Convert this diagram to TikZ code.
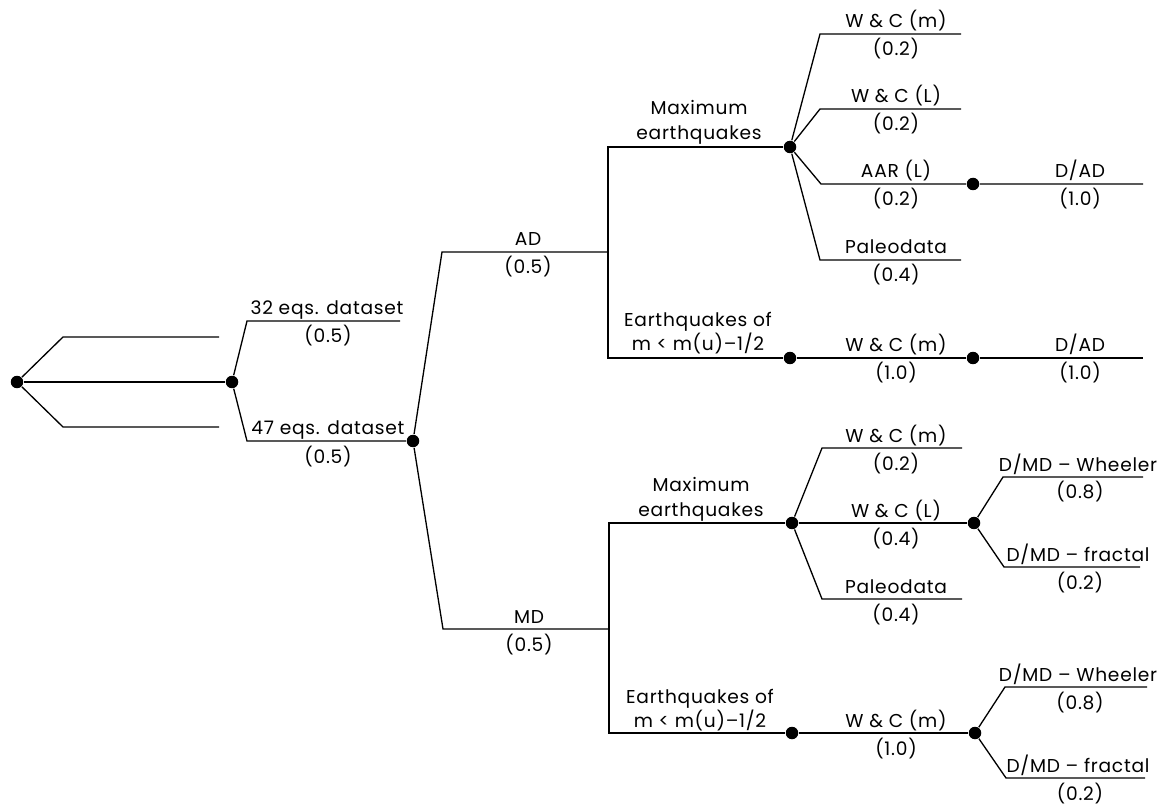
\documentclass[tikz,border=0pt]{standalone}
\usepackage{fontspec}
\setmainfont{Poppins}[LetterSpace=4]
\begin{document}
\begin{tikzpicture}[x=0.02cm,y=-0.02cm,line width=0.75pt,
  dot/.style={circle,fill=black,inner sep=0pt,minimum size=0.25cm},
  lbl/.style={anchor=base,inner sep=0pt,font=\fontsize{10.6}{12}\selectfont}]
\useasboundingbox (0,0) rectangle (1163,807);

% root and the first chance node
\node[dot] (r) at (17,382) {};
\coordinate (r1) at (63,337);  \coordinate (r1e) at (219,337);
\coordinate (r3) at (63,427);  \coordinate (r3e) at (219,427);
\node[dot] (d1) at (232,382) {};
\draw (r) -- (r1) -- (r1e);
\draw (r) -- (d1);
\draw (r) -- (r3) -- (r3e);

% datasets
\coordinate (s1) at (247,321); \coordinate (s1e) at (400,321);
\coordinate (s2) at (247,441);
\node[dot] (d2) at (413,441) {};
\draw (d1) -- (s1) -- (s1e);
\draw (d1) -- (s2) -- (d2);
\node[lbl] (t32) at (327,315) {32 eqs. dataset};
\node[lbl] (p32) at (328,343) {(0.5)};
\node[lbl] (t47) at (328,435) {47 eqs. dataset};
\node[lbl] (p47) at (328,463) {(0.5)};

% AD / MD
\coordinate (a0) at (442,252); \coordinate (ad) at (608,252);
\coordinate (m0) at (443,629); \coordinate (md) at (609,629);
\draw (d2) -- (a0) -- (ad);
\draw (d2) -- (m0) -- (md);
\node[lbl] (tad) at (528,246) {AD};
\node[lbl] (pad) at (528,274) {(0.5)};
\node[lbl] (tmd) at (529,623) {MD};
\node[lbl] (pmd) at (529,651) {(0.5)};

% ---------------- AD branch ----------------
\coordinate (adt) at (608,147); \coordinate (adb) at (608,358);
\node[dot] (m1) at (790,147) {};
\node[dot] (e1) at (790,358) {};
\draw (m1) -- (adt) -- (adb) -- (e1);
\node[lbl] (tm1a) at (699,115) {Maximum};
\node[lbl] (tm1b) at (699,140) {earthquakes};
\node[lbl] (te1a) at (698,327) {Earthquakes of};
\node[lbl] (te1b) at (698,351) {m < m(u)–1/2};

% maximum earthquakes (AD)
\coordinate (c1) at (820,34);  \coordinate (c1e) at (961,34);
\coordinate (c2) at (820,109); \coordinate (c2e) at (961,109);
\coordinate (c3) at (821,184); \node[dot] (a1) at (973,184) {};
\coordinate (c4) at (820,260); \coordinate (c4e) at (961,260);
\coordinate (a1e) at (1143,184);
\draw (m1) -- (c1) -- (c1e);
\draw (m1) -- (c2) -- (c2e);
\draw (m1) -- (c3) -- (a1) -- (a1e);
\draw (m1) -- (c4) -- (c4e);
\node[lbl] (tc1) at (896,28)  {W \& C (m)};
\node[lbl] (pc1) at (896,56)  {(0.2)};
\node[lbl] (tc2) at (896,103) {W \& C (L)};
\node[lbl] (pc2) at (896,131) {(0.2)};
\node[lbl] (tc3) at (896,178) {AAR (L)};
\node[lbl] (pc3) at (896,206) {(0.2)};
\node[lbl] (tc4) at (896,254) {Paleodata};
\node[lbl] (pc4) at (896,282) {(0.4)};
\node[lbl] (ta1) at (1080,178) {D/AD};
\node[lbl] (pa1) at (1080,206) {(1.0)};

% smaller earthquakes (AD)
\node[dot] (e1b) at (973,358) {};
\coordinate (e1e) at (1143,358);
\draw (e1) -- (e1b) -- (e1e);
\node[lbl] (te1c) at (896,352) {W \& C (m)};
\node[lbl] (pe1c) at (896,380) {(1.0)};
\node[lbl] (te1d) at (1080,352) {D/AD};
\node[lbl] (pe1d) at (1080,380) {(1.0)};

% ---------------- MD branch ----------------
\coordinate (mdt) at (609,523); \coordinate (mdb) at (609,733);
\node[dot] (m2) at (792,523) {};
\node[dot] (e2) at (792,733) {};
\draw (m2) -- (mdt) -- (mdb) -- (e2);
\node[lbl] (tm2a) at (701,491) {Maximum};
\node[lbl] (tm2b) at (701,516) {earthquakes};
\node[lbl] (te2a) at (700,703) {Earthquakes of};
\node[lbl] (te2b) at (700,727) {m < m(u)–1/2};

% maximum earthquakes (MD)
\coordinate (k1) at (822,448); \coordinate (k1e) at (962,448);
\node[dot] (w2) at (974,523) {};
\coordinate (k3) at (822,599); \coordinate (k3e) at (962,599);
\draw (m2) -- (k1) -- (k1e);
\draw (m2) -- (w2);
\draw (m2) -- (k3) -- (k3e);
\node[lbl] (tk1) at (896,442) {W \& C (m)};
\node[lbl] (pk1) at (896,470) {(0.2)};
\node[lbl] (tk2) at (896,517) {W \& C (L)};
\node[lbl] (pk2) at (896,545) {(0.4)};
\node[lbl] (tk3) at (896,593) {Paleodata};
\node[lbl] (pk3) at (896,621) {(0.4)};

\coordinate (f1) at (1003,477); \coordinate (f1e) at (1143,477);
\coordinate (f2) at (1004,567); \coordinate (f2e) at (1140,567);
\draw (w2) -- (f1) -- (f1e);
\draw (w2) -- (f2) -- (f2e);
\node[lbl] (tf1) at (1078,471) {D/MD – Wheeler};
\node[lbl] (pf1) at (1080,499) {(0.8)};
\node[lbl] (tf2) at (1078,561) {D/MD – fractal};
\node[lbl] (pf2) at (1080,589) {(0.2)};

% smaller earthquakes (MD)
\node[dot] (e2b) at (975,733) {};
\draw (e2) -- (e2b);
\node[lbl] (te2c) at (896,727) {W \& C (m)};
\node[lbl] (pe2c) at (896,755) {(1.0)};
\coordinate (g1) at (1005,687); \coordinate (g1e) at (1147,687);
\coordinate (g2) at (1006,778); \coordinate (g2e) at (1145,778);
\draw (e2b) -- (g1) -- (g1e);
\draw (e2b) -- (g2) -- (g2e);
\node[lbl] (tg1) at (1078,681) {D/MD – Wheeler};
\node[lbl] (pg1) at (1080,709) {(0.8)};
\node[lbl] (tg2) at (1078,772) {D/MD – fractal};
\node[lbl] (pg2) at (1080,800) {(0.2)};
\end{tikzpicture}
\end{document}
